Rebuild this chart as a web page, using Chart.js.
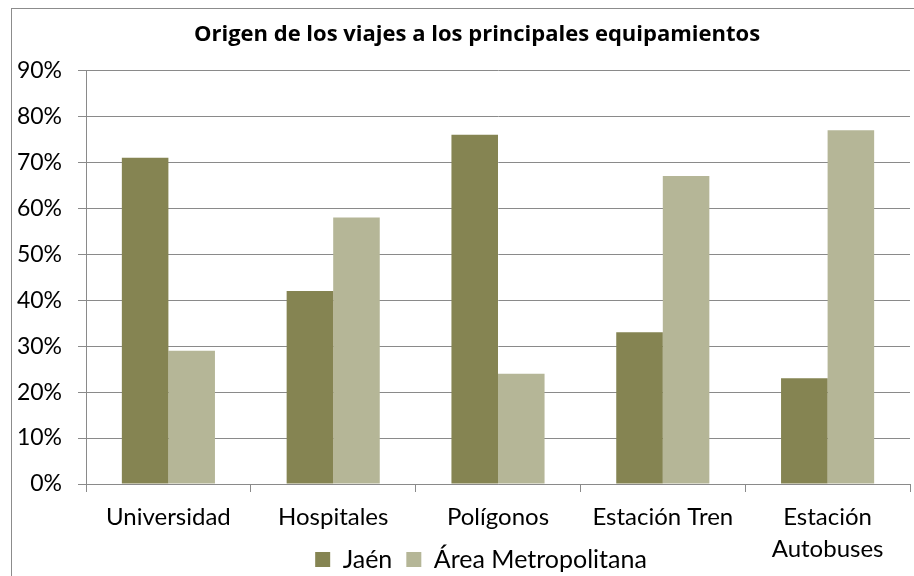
<!DOCTYPE html>
<html>
<head>
<meta charset="utf-8">
<script src="https://cdn.jsdelivr.net/npm/chart.js@4"></script>
<style>
    html, body { margin: 0; padding: 0; background: #fff; }
    #wrap { width: 914px; height: 576px; }
</style>
</head>
<body>
<div id="wrap"><canvas id="viajesChart"></canvas></div>
<script>
// 各设施的出行来源（百分比）
const categorias = ['Universidad', 'Hospitales', 'Polígonos', 'Estación Tren', ['Estación', 'Autobuses']];
const jaen = [71, 42, 76, 33, 23];
const areaMetropolitana = [29, 58, 24, 67, 77];
const yTicks = [0, 10, 20, 30, 40, 50, 60, 70, 80, 90];

const gridColor = '#8a8a8a';
const fuente = 'Lato, "Open Sans", sans-serif';

// 白底 + 外边框
const marco = {
    id: 'marco',
    beforeDraw(chart) {
        const ctx = chart.ctx;
        ctx.save();
        ctx.fillStyle = '#fff';
        ctx.fillRect(0, 0, chart.width, chart.height);
        ctx.strokeStyle = '#8c8c8c';
        ctx.lineWidth = 1;
        ctx.strokeRect(11.5, 8.5, 920, 600);
        ctx.restore();
    }
};

// 标题、图例稍微右移；图例往下压到x轴第二行标签旁边；x轴标签不裁剪
const ajusteLeyenda = {
    id: 'ajusteLeyenda',
    afterLayout(chart) {
        const leg = chart.legend;
        leg.top += 6;
        leg.bottom += 6;
        leg.left += 20;
        leg.right += 20;
        chart.titleBlock.left += 16;
        chart.titleBlock.right += 16;
        chart.scales.x.bottom = chart.height;
    }
};

const viajesChart = new Chart(document.getElementById('viajesChart'), {
    type: 'bar',
    data: {
        labels: categorias,
        datasets: [{
            label: 'Jaén',
            data: jaen,
            backgroundColor: '#858452',
            borderWidth: 0,
            barPercentage: 1,
            categoryPercentage: 0.565
        }, {
            label: 'Área Metropolitana',
            data: areaMetropolitana,
            backgroundColor: '#b5b697',
            borderWidth: 0,
            barPercentage: 1,
            categoryPercentage: 0.565
        }]
    },
    options: {
        responsive: true,
        maintainAspectRatio: false,
        animation: false,
        layout: {
            padding: { left: 12, right: 4, top: 8, bottom: 0 }
        },
        plugins: {
            title: {
                display: true,
                text: 'Origen de los viajes a los principales equipamientos',
                color: '#000',
                font: { family: '"Open Sans", sans-serif', size: 22, weight: 'bold' },
                padding: { top: 14, bottom: 22 }
            },
            legend: {
                position: 'bottom',
                labels: {
                    color: '#000',
                    font: { family: fuente, size: 25 },
                    boxWidth: 15,
                    boxHeight: 15,
                    padding: 14
                }
            },
            tooltip: { enabled: false }
        },
        scales: {
            x: {
                grid: {
                    display: true,
                    offset: true,
                    drawOnChartArea: false,
                    tickLength: 8,
                    color: gridColor
                },
                border: { color: gridColor },
                ticks: {
                    color: '#000',
                    padding: 9,
                    maxRotation: 0,
                    font: { family: fuente, size: 24, lineHeight: 1.33 }
                },
                afterFit(scale) {
                    scale.height = 43;
                }
            },
            y: {
                min: 0,
                max: 90,
                afterBuildTicks(scale) {
                    scale.ticks = yTicks.map(v => ({ value: v }));
                },
                grid: {
                    color: gridColor,
                    tickLength: 8
                },
                border: { color: gridColor },
                ticks: {
                    color: '#000',
                    padding: 16,
                    font: { family: fuente, size: 23 },
                    callback: function(value) {
                        return value + '%';
                    }
                },
                afterFit(scale) {
                    scale.width = 74;
                }
            }
        }
    },
    plugins: [marco, ajusteLeyenda]
});
</script>
</body>
</html>
